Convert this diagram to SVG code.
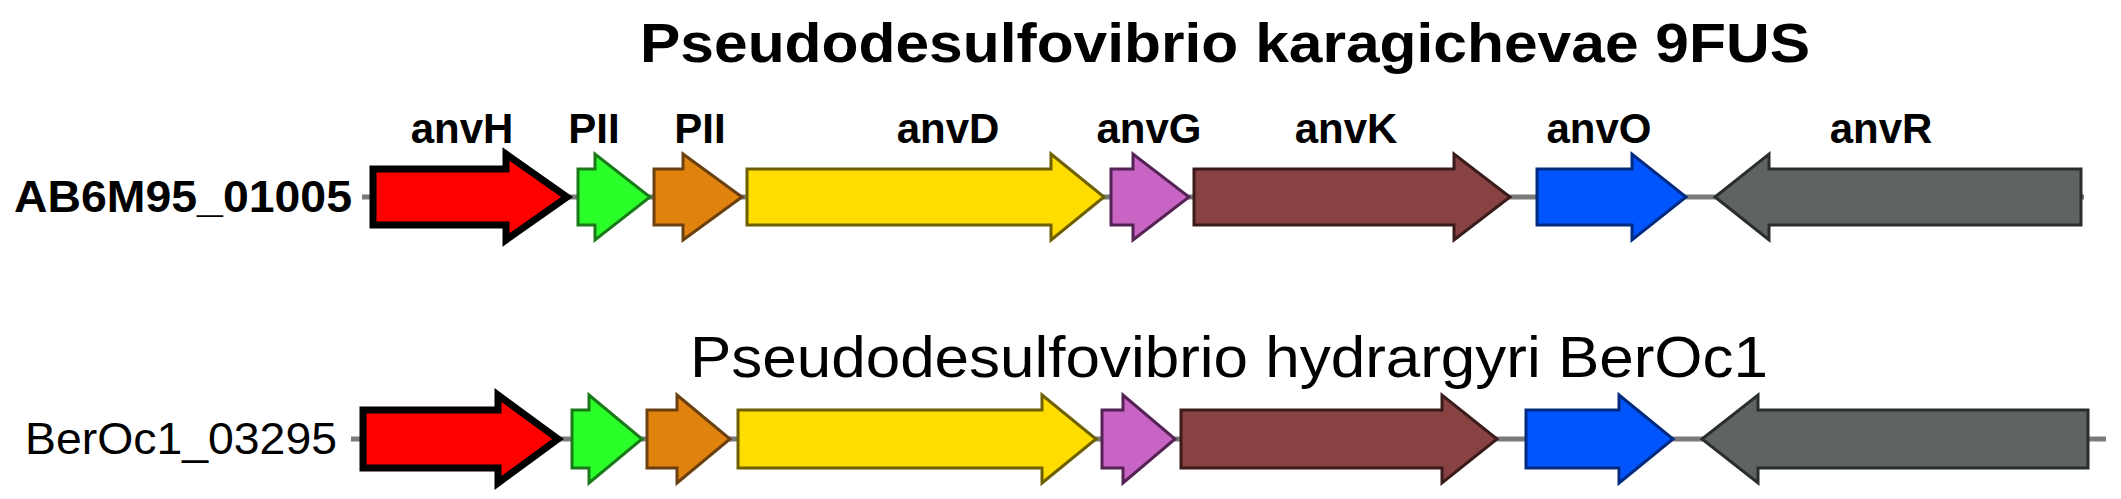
<svg xmlns="http://www.w3.org/2000/svg" width="2121" height="499" viewBox="0 0 2121 499">
<style>
.t{font-family:"Liberation Sans",Arial,sans-serif;fill:#000}
.b{font-weight:bold}
.g{stroke-width:3;stroke-linejoin:miter}
.ln{stroke:#7a7a7a;stroke-width:5}
</style>
<rect width="2121" height="499" fill="#fff"/>
<text class="t b" x="1225" y="62" font-size="56" text-anchor="middle" textLength="1170" lengthAdjust="spacingAndGlyphs">Pseudodesulfovibrio karagichevae 9FUS</text>
<text class="t" x="1229" y="377" font-size="58" text-anchor="middle" textLength="1078" lengthAdjust="spacingAndGlyphs">Pseudodesulfovibrio hydrargyri BerOc1</text>
<g id="labels1" class="t b" font-size="42" text-anchor="middle">
<text x="462" y="143">anvH</text><text x="594" y="143">PII</text><text x="700" y="143">PII</text>
<text x="948" y="143">anvD</text><text x="1149" y="143">anvG</text><text x="1346" y="143">anvK</text>
<text x="1599" y="143">anvO</text><text x="1881" y="143">anvR</text>
</g>
<text id="lab1" class="t b" x="352" y="212" font-size="44" text-anchor="end" textLength="338" lengthAdjust="spacingAndGlyphs">AB6M95_01005</text>
<text id="lab2" class="t" x="337" y="454" font-size="44" text-anchor="end" textLength="312" lengthAdjust="spacingAndGlyphs">BerOc1_03295</text>
<g id="connectors">
<line class="ln" x1="362" y1="197" x2="2084" y2="197"/>
<line class="ln" x1="351" y1="439" x2="2106" y2="439"/>
</g>
<g id="row1">
<polygon id="r1H" fill="#ff0000" stroke="#000" stroke-width="7" points="373,169 506,169 506,154 567,197 506,240 506,225 373,225"/>
<polygon id="r1P1" class="g" fill="#2aff2a" stroke="#1a7a1a" points="578,169 595,169 595,154 650,197 595,240 595,225 578,225"/>
<polygon id="r1P2" class="g" fill="#e0820e" stroke="#6a4010" points="654,169 683,169 683,154 742,197 683,240 683,225 654,225"/>
<polygon id="r1D" class="g" fill="#ffdd00" stroke="#6e6000" points="747,169 1051,169 1051,154 1104,197 1051,240 1051,225 747,225"/>
<polygon id="r1G" class="g" fill="#c864c4" stroke="#552255" points="1111,169 1133,169 1133,154 1189,197 1133,240 1133,225 1111,225"/>
<polygon id="r1K" class="g" fill="#884242" stroke="#3a1a1a" points="1194,169 1454,169 1454,154 1510,197 1454,240 1454,225 1194,225"/>
<polygon id="r1O" class="g" fill="#0055ff" stroke="#002a80" points="1537,169 1632,169 1632,154 1686,197 1632,240 1632,225 1537,225"/>
<polygon id="r1R" class="g" fill="#5f6463" stroke="#2a2d2d" points="2081,169 1769,169 1769,154 1715,197 1769,240 1769,225 2081,225"/>
</g>
<g id="row2">
<polygon id="r2H" fill="#ff0000" stroke="#000" stroke-width="7" points="363,410 498,410 498,395 558,439 498,483 498,468 363,468"/>
<polygon id="r2P1" class="g" fill="#2aff2a" stroke="#1a7a1a" points="572,410 589,410 589,395 642,439 589,483 589,468 572,468"/>
<polygon id="r2P2" class="g" fill="#e0820e" stroke="#6a4010" points="647,410 677,410 677,395 730,439 677,483 677,468 647,468"/>
<polygon id="r2D" class="g" fill="#ffdd00" stroke="#6e6000" points="738,410 1042,410 1042,395 1096,439 1042,483 1042,468 738,468"/>
<polygon id="r2G" class="g" fill="#c864c4" stroke="#552255" points="1102,410 1123,410 1123,395 1175,439 1123,483 1123,468 1102,468"/>
<polygon id="r2K" class="g" fill="#884242" stroke="#3a1a1a" points="1181,410 1442,410 1442,395 1497,439 1442,483 1442,468 1181,468"/>
<polygon id="r2O" class="g" fill="#0055ff" stroke="#002a80" points="1526,410 1619,410 1619,395 1673,439 1619,483 1619,468 1526,468"/>
<polygon id="r2R" class="g" fill="#5f6463" stroke="#2a2d2d" points="2088,410 1758,410 1758,395 1702,439 1758,483 1758,468 2088,468"/>
</g>
</svg>
